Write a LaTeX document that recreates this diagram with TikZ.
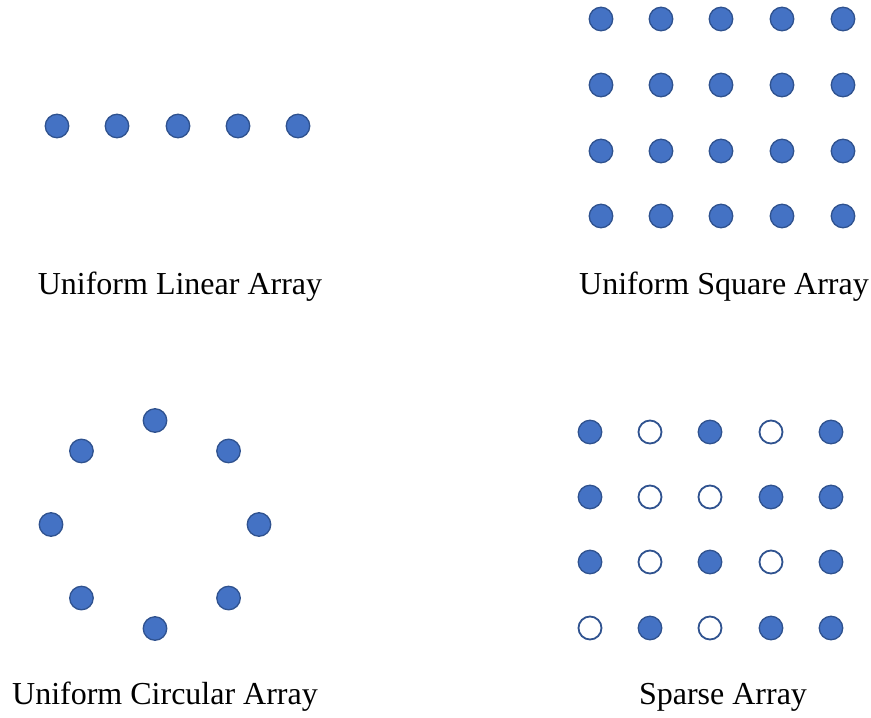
\documentclass[tikz,border=0pt]{standalone}
\usepackage{fontspec}
\setmainfont{Liberation Serif}
\definecolor{elemfill}{HTML}{4472C4}
\definecolor{elemline}{HTML}{2F528F}
\begin{document}
\begin{tikzpicture}[x=1pt,y=-1pt,
  elem/.style={circle,draw=elemline,line width=1.3pt,fill=elemfill,minimum size=23.5pt,inner sep=0pt},
  hole/.style={circle,draw=elemline,line width=1.8pt,fill=white,minimum size=23pt,inner sep=0pt},
  caption/.style={font=\fontsize{32}{36}\selectfont,anchor=base,inner sep=0pt}]
\useasboundingbox[fill=white] (0,0) rectangle (871,718);
% Uniform linear array
\foreach \x [count=\i] in {57,117,178,238,298}
  \node[elem] (ula\i) at (\x,126) {};
\node[caption] (ulacap) at (180,294) {Uniform Linear Array};
% Uniform square array
\foreach \y [count=\r] in {19,85,151,216}
  \foreach \x [count=\c] in {601,661,721,782,843}
    \node[elem] (usa\r\c) at (\x,\y) {};
\node[caption] (usacap) at (724,294) {Uniform Square Array};
% Uniform circular array
\foreach \a [count=\i] in {90,45,0,-45,-90,-135,180,135}
  \node[elem] (uca\i) at ({155+104*cos(\a)},{524.5-104*sin(\a)}) {};
\node[caption] (ucacap) at (165,704) {Uniform Circular Array};
% Sparse array
\def\ys{{432,497,562,628}}
\def\xs{{590,650,710,771,831}}
\foreach \r/\pat in {1/{1,0,1,0,1},2/{1,0,0,1,1},3/{1,0,1,0,1},4/{0,1,0,1,1}}{
  \foreach \v [count=\c] in \pat {
    \pgfmathsetmacro{\px}{\xs[\c-1]}
    \pgfmathsetmacro{\py}{\ys[\r-1]}
    \ifnum\v=1
      \node[elem] (sa\r\c) at (\px,\py) {};
    \else
      \node[hole] (sa\r\c) at (\px,\py) {};
    \fi
  }
}
\node[caption] (sacap) at (723,704) {Sparse Array};
\end{tikzpicture}
\end{document}
